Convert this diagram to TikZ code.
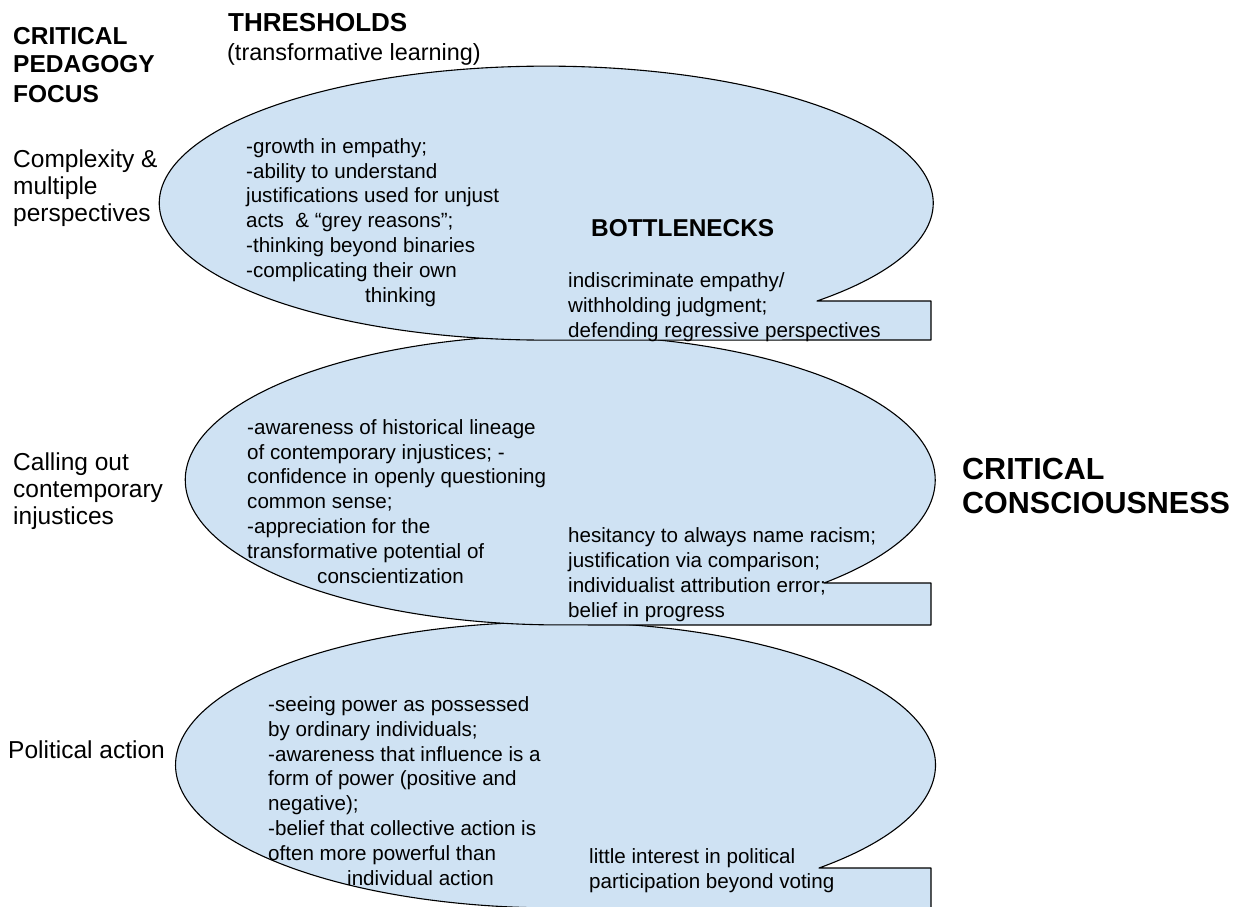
\documentclass[tikz,border=0pt]{standalone}
\usepackage{fontspec}
\setmainfont{Liberation Sans}
\usepackage{tikz}
\usetikzlibrary{positioning}

\definecolor{bubblefill}{HTML}{CFE2F3}

\tikzset{
  bubble/.style={draw=black,fill=bubblefill,line width=1.1pt,line join=round},
  txt/.style={anchor=base west,inner sep=0pt,align=left,
    font=\fontsize{20.6}{24.8}\selectfont},
  side/.style={anchor=base west,inner sep=0pt,align=left,
    font=\fontsize{24.5}{27}\selectfont},
  head/.style={anchor=base west,inner sep=0pt,align=left}
}

\begin{document}
\begin{tikzpicture}[x=1pt,y=-1pt]
  \useasboundingbox (0,0) rectangle (1242,907);

  \draw[bubble] (819,868) arc[start angle=46.1,end angle=-270,x radius=380,y radius=143]
    -- (931,908) -- (931,868) -- cycle;
  \draw[bubble] (824,583) arc[start angle=45.3,end angle=-270,x radius=375,y radius=145]
    -- (931,625) -- (931,583) -- cycle;
  \draw[bubble] (817,301) arc[start angle=45.6,end angle=-270,x radius=387,y radius=137]
    -- (931,340) -- (931,301) -- cycle;

  % base anchor of a multi-line node = baseline of its last line
  \node[head,font=\fontsize{24.5}{29}\selectfont\bfseries] (focus) at (13,102)
    {CRITICAL\\PEDAGOGY\\FOCUS};
  \node[head,font=\fontsize{26}{28}\selectfont\bfseries] (thresholds) at (228,32) {THRESHOLDS};
  \node[head,font=\fontsize{23.4}{28}\selectfont] (transf) at (227,60) {(transformative learning)};
  \node[head,font=\fontsize{24.4}{28}\selectfont\bfseries] (bottlenecks) at (591,236) {BOTTLENECKS};
  \node[head,font=\fontsize{30.5}{34}\selectfont\bfseries] (consc) at (962,513)
    {CRITICAL\\CONSCIOUSNESS};

  \node[side] (fcomplex) at (13,221) {Complexity \&\\multiple\\perspectives};
  \node[side] (fcalling) at (13,524) {Calling out\\contemporary\\injustices};
  \node[side] (fpolitical) at (8,758) {Political action};

  \node[txt] (tcomplex) at (246,302)
    {-growth in empathy;\\-ability to understand\\justifications used for unjust\\
     acts\ \ \& “grey reasons”;\\-thinking beyond binaries\\-complicating their own\\
     \hspace*{119pt}thinking};
  \node[txt] (tcalling) at (247,583)
    {-awareness of historical lineage\\of contemporary injustices; -\\
     confidence in openly questioning\\common sense;\\-appreciation for the\\
     transformative potential of\\\hspace*{70pt}conscientization};
  \node[txt] (tpolitical) at (268,885)
    {-seeing power as possessed\\by ordinary individuals;\\-awareness that influence is a\\
     form of power (positive and\\negative);\\-belief that collective action is\\
     often more powerful than\\\hspace*{79pt}individual action};

  \node[txt] (bcomplex) at (568,337)
    {indiscriminate empathy/\\withholding judgment;\\defending regressive perspectives};
  \node[txt] (bcalling) at (568,617)
    {hesitancy to always name racism;\\justification via comparison;\\
     individualist attribution error;\\belief in progress};
  \node[txt] (bpolitical) at (589,888)
    {little interest in political\\participation beyond voting};
\end{tikzpicture}
\end{document}
